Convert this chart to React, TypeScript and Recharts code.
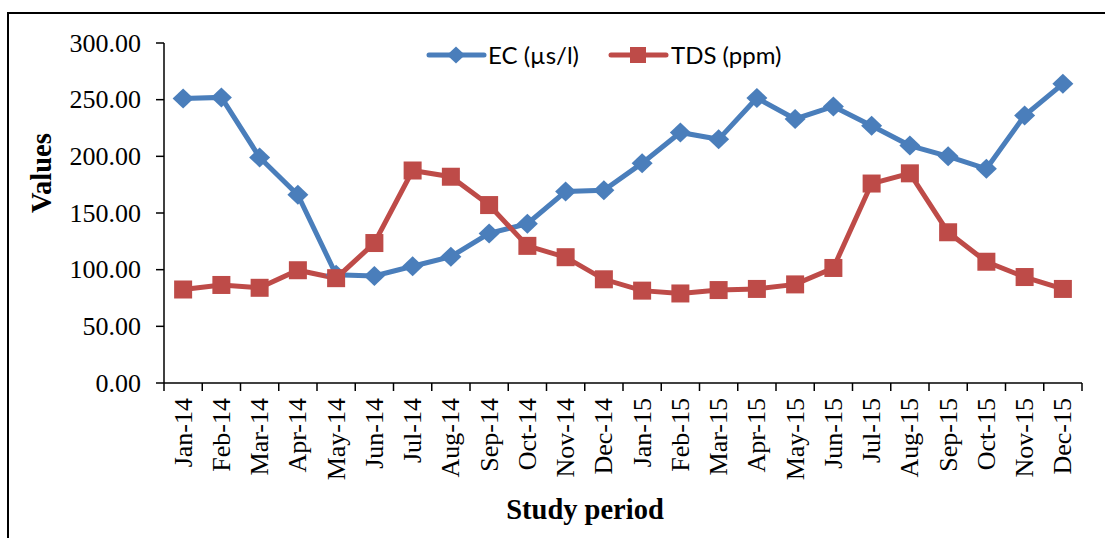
import React from 'react';
import { LineChart, Line, XAxis, YAxis } from 'recharts';

const months = ['Jan-14','Feb-14','Mar-14','Apr-14','May-14','Jun-14','Jul-14','Aug-14','Sep-14','Oct-14','Nov-14','Dec-14','Jan-15','Feb-15','Mar-15','Apr-15','May-15','Jun-15','Jul-15','Aug-15','Sep-15','Oct-15','Nov-15','Dec-15'];
const ecValues = [251, 252, 199, 166, 95.5, 94.5, 103, 111.5, 132, 140.5, 169, 170, 194, 221, 215, 251.5, 233, 244, 227, 209.5, 200, 189, 236, 264];
const tdsValues = [82.5, 86.5, 84, 99.5, 92.5, 123.5, 187.5, 182, 157, 121, 111, 91.5, 81.5, 79, 82, 83, 87, 101.5, 176, 185, 133, 107, 93.5, 83];
const yTicks = [0, 50, 100, 150, 200, 250, 300];

const data = months.map((m, i) => ({ month: m, ec: ecValues[i], tds: tdsValues[i] }));

const BLUE = '#4A7EBB';
const RED = '#BE4B48';
const SERIF = '"Liberation Serif", "Times New Roman", serif';
const SANS = 'Lato, "Open Sans", sans-serif';
const HALF_BAND = 19.125;

const Diamond = (props: any) => {
  const { cx, cy } = props;
  if (cx == null || cy == null) return null;
  return <polygon points={`${cx},${cy - 10} ${cx + 10.5},${cy} ${cx},${cy + 10} ${cx - 10.5},${cy}`} fill={BLUE} />;
};

const Square = (props: any) => {
  const { cx, cy } = props;
  if (cx == null || cy == null) return null;
  return <rect x={cx - 9} y={cy - 9} width={18} height={18} fill={RED} />;
};

const XTick = (props: any) => {
  const { x, y, payload, index } = props;
  const last = index === months.length - 1;
  return (
    <g>
      <line x1={x - HALF_BAND} y1={y} x2={x - HALF_BAND} y2={y + 8} stroke="#000" strokeWidth={1.5} />
      {last && <line x1={x + HALF_BAND} y1={y} x2={x + HALF_BAND} y2={y + 8} stroke="#000" strokeWidth={1.5} />}
      <text
        x={x}
        y={y + 15}
        transform={`rotate(-90, ${x}, ${y + 15})`}
        textAnchor="end"
        dominantBaseline="central"
        fontFamily={SERIF}
        fontSize={26}
        fill="#000"
      >
        {payload.value}
      </text>
    </g>
  );
};

const YTick = (props: any) => {
  const { x, y, payload } = props;
  return (
    <g>
      <line x1={x - 8} y1={y} x2={x} y2={y} stroke="#000" strokeWidth={1.5} />
      <text x={x - 23} y={y} textAnchor="end" dominantBaseline="central" fontFamily={SERIF} fontSize={26} fill="#000">
        {Number(payload.value).toFixed(2)}
      </text>
    </g>
  );
};

export default function App() {
  return (
    <div style={{ position: 'fixed', left: 0, top: 0, width: 1105, height: 538, overflow: 'hidden', background: '#fff' }}>
      <div style={{ position: 'absolute', left: 7, top: 12, width: 1200, height: 700, borderLeft: '2px solid #000', borderTop: '2px solid #000' }} />
      <div style={{ position: 'absolute', left: 0, top: 0 }}>
        <LineChart width={1105} height={538} data={data} margin={{ top: 43, right: 23, bottom: 0, left: 0 }}>
          <XAxis
            dataKey="month"
            type="category"
            scale="band"
            height={155}
            tickSize={0}
            tickMargin={0}
            tickLine={false}
            interval={0}
            axisLine={{ stroke: '#000', strokeWidth: 1.5 }}
            tick={<XTick />}
            label={{
              content: () => (
                <text x={585} y={519} textAnchor="middle" fontFamily={SERIF} fontWeight="bold" fontSize={28.5} fill="#000">
                  Study period
                </text>
              ),
            }}
          />
          <YAxis
            width={164}
            domain={[0, 300]}
            ticks={yTicks}
            interval={0}
            tickSize={0}
            tickMargin={0}
            tickLine={false}
            axisLine={{ stroke: '#000', strokeWidth: 1.5 }}
            tick={<YTick />}
            label={{
              content: () => (
                <text x={41} y={173} transform="rotate(-90, 41, 173)" textAnchor="middle" dominantBaseline="central" fontFamily={SERIF} fontWeight="bold" fontSize={28.5} fill="#000">
                  Values
                </text>
              ),
            }}
          />
          <Line dataKey="ec" name="EC (µs/l)" stroke={BLUE} strokeWidth={5} dot={<Diamond />} activeDot={false} isAnimationActive={false} />
          <Line dataKey="tds" name="TDS (ppm)" stroke={RED} strokeWidth={5} dot={<Square />} activeDot={false} isAnimationActive={false} />
        </LineChart>
      </div>
      <svg width={1105} height={538} style={{ position: 'absolute', left: 0, top: 0, pointerEvents: 'none' }}>
        <line x1={429} y1={55} x2={484} y2={55} stroke={BLUE} strokeWidth={5} strokeLinecap="round" />
        <polygon points="456,46.5 465,55 456,63.5 447,55" fill={BLUE} />
        <text x={488} y={64} fontFamily={SANS} fontSize={24} fill="#000">EC (µs/l)</text>
        <line x1={611} y1={55} x2={666} y2={55} stroke={RED} strokeWidth={5} strokeLinecap="round" />
        <rect x={630} y={47} width={16} height={16} fill={RED} />
        <text x={671} y={64} fontFamily={SANS} fontSize={24} fill="#000">TDS (ppm)</text>
      </svg>
    </div>
  );
}
